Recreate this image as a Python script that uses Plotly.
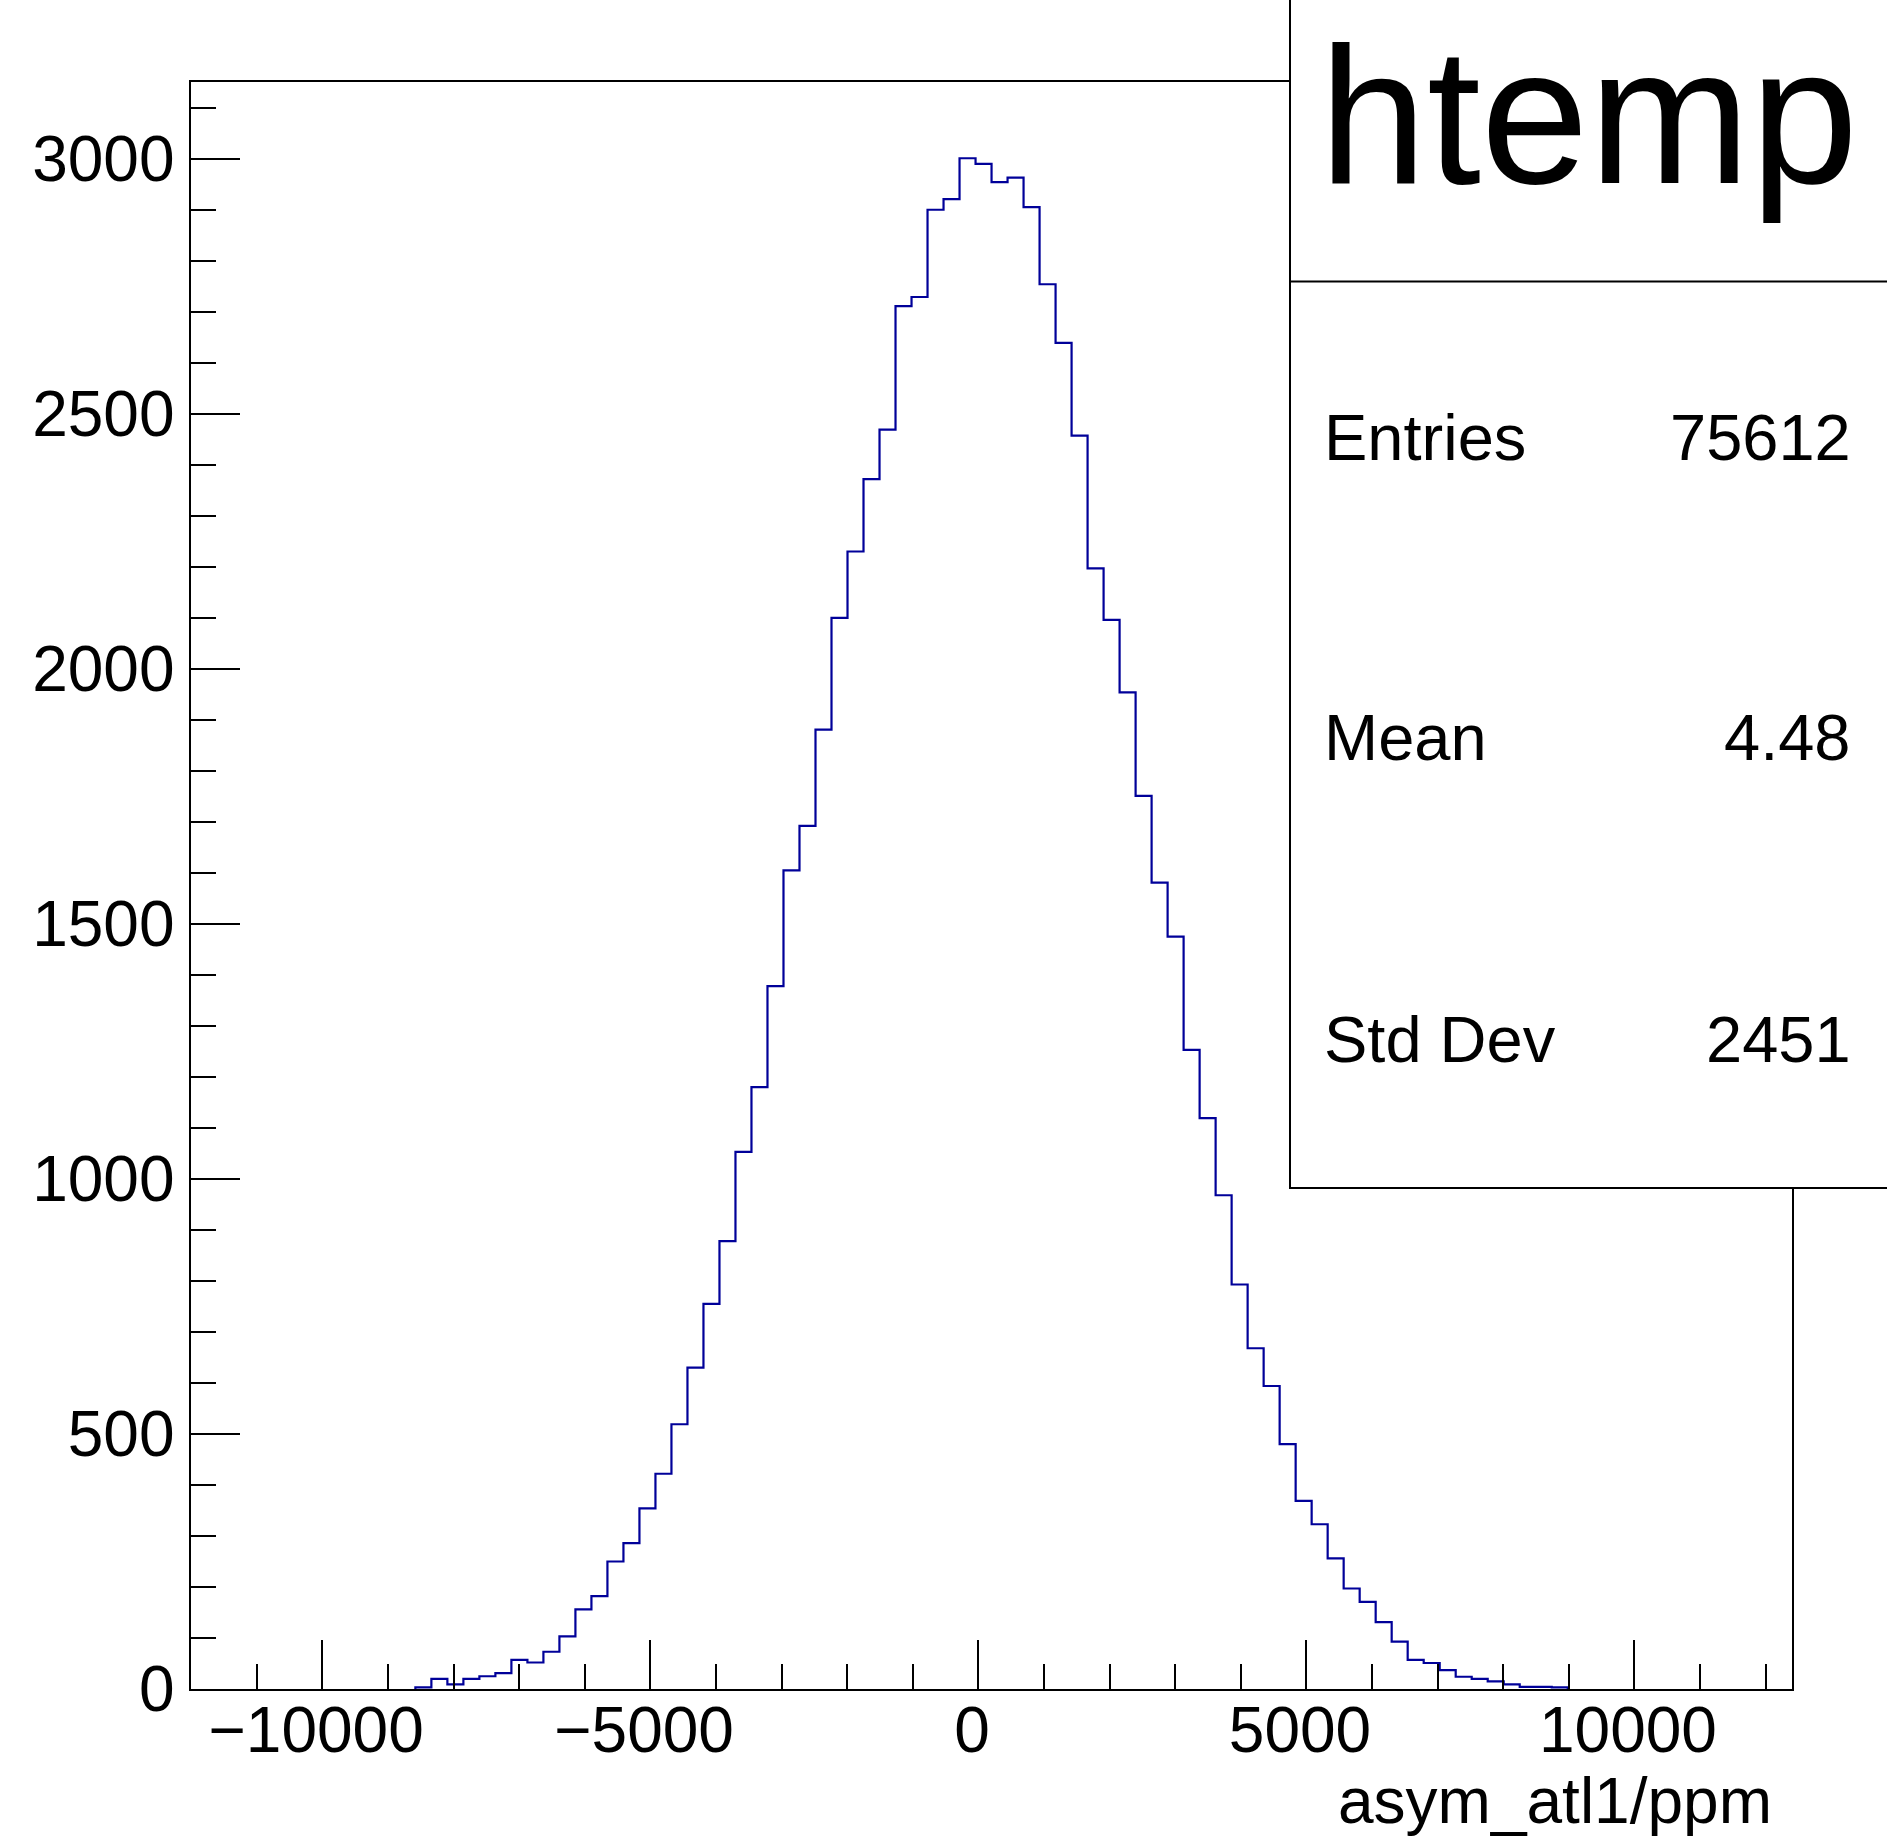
import plotly.graph_objects as go

# ---- data ----
x_low = -12000.0
bin_width = 244.0
n_bins = 100
bin_counts = [
    0, 0, 0, 0, 0, 0, 0, 0, 0, 0,
    0, 0, 0, 0, 3, 20, 9, 20, 25, 31,
    57, 52, 73, 103, 156, 182, 250, 286, 354, 422,
    519, 630, 755, 878, 1053, 1180, 1378, 1605, 1692, 1881,
    2100, 2230, 2372, 2469, 2711, 2729, 2900, 2921, 3001, 2990,
    2954, 2963, 2905, 2754, 2639, 2457, 2197, 2096, 1954, 1751,
    1581, 1475, 1253, 1119, 968, 793, 668, 594, 480, 369,
    323, 256, 197, 171, 131, 93, 57, 51, 37, 24,
    20, 15, 9, 4, 4, 3, 0, 0, 0, 0,
    0, 0, 0, 0, 0, 0, 0, 0, 0, 0,
]
x_tick_values = [-10000, -5000, 0, 5000, 10000]
x_tick_labels = ["\u221210000", "\u22125000", "0", "5000", "10000"]
hist_name = "htemp"
x_title = "asym_atl1/ppm"
stat_names = ["Entries", "Mean", "Std Dev"]
stat_values = ["75612", "4.48", "2451"]
x_range = [-12000, 12400]
y_max = 3151.05

# ---- geometry ----
W, H = 1887, 1837
FL, FR, FT, FB = 191.3, 1791.8, 81.7, 1689.0   # frame in px


def px(x):
    return x / W


def py(y):
    return 1 - y / H


edges = [x_low + bin_width * i for i in range(n_bins + 1)]
nz = [i for i, c in enumerate(bin_counts) if c > 0]
first, last = nz[0], nz[-1]
xs = [edges[first]] + edges[first:last + 2] + [edges[last + 1]]
ys = [0] + bin_counts[first:last + 1] + [bin_counts[last], 0]

fig = go.Figure()
fig.add_trace(go.Scatter(
    x=xs, y=ys, mode="lines", line_shape="hv",
    line=dict(color="#000099", width=2.2), showlegend=False, hoverinfo="skip",
))

FONT = "Liberation Sans, Arial, Helvetica, sans-serif"
TS = 64

fig.update_layout(
    width=W, height=H, autosize=False,
    margin=dict(l=0, r=0, t=0, b=0, pad=0, autoexpand=False),
    paper_bgcolor="white", plot_bgcolor="white",
    font=dict(family=FONT, color="black", size=TS),
    showlegend=False,
    xaxis=dict(
        domain=[px(FL), px(FR)], range=x_range, autorange=False,
        showgrid=False, zeroline=False,
        showline=True, linecolor="black", linewidth=2, mirror=True,
        ticks="inside", ticklen=49, tickwidth=2, tickcolor="black",
        tickmode="array", tickvals=x_tick_values,
        ticktext=[t + "\u2009" for t in x_tick_labels],
        tickfont=dict(size=TS, family=FONT, color="black"),
        ticklabelstandoff=-16,
        minor=dict(ticks="inside", ticklen=25, tickwidth=2, tickcolor="black",
                   dtick=1000, tick0=0, showgrid=False),
    ),
    yaxis=dict(
        domain=[py(FB), py(FT)], range=[0, y_max], autorange=False,
        showgrid=False, zeroline=False,
        showline=True, linecolor="black", linewidth=2, mirror=True,
        ticks="inside", ticklen=49, tickwidth=2, tickcolor="black",
        tick0=0, dtick=500, tickformat="d",
        tickfont=dict(size=TS, family=FONT, color="black"),
        ticklabelstandoff=2,
        minor=dict(ticks="inside", ticklen=25, tickwidth=2, tickcolor="black",
                   dtick=100, tick0=0, showgrid=False),
    ),
)

# stats box
BX0, BY1, SEP = 1290.0, 1188.0, 281.6
fig.add_shape(type="rect", xref="paper", yref="paper",
              x0=px(BX0), x1=px(W + 5), y0=py(BY1), y1=py(-5),
              line=dict(color="black", width=2), fillcolor="white", layer="above")
fig.add_shape(type="line", xref="paper", yref="paper",
              x0=px(BX0), x1=px(W + 5), y0=py(SEP), y1=py(SEP),
              line=dict(color="black", width=2), layer="above")

fig.add_annotation(text=hist_name, xref="paper", yref="paper",
                   x=px(1588), y=py(116), xanchor="center", yanchor="middle",
                   showarrow=False, font=dict(size=194, family=FONT, color="black"))

row_y = [437, 738, 1039]
for name, val, yy in zip(stat_names, stat_values, row_y):
    fig.add_annotation(text=name, xref="paper", yref="paper",
                       x=px(1322), y=py(yy), xanchor="left", yanchor="middle",
                       showarrow=False, font=dict(size=65, family=FONT, color="black"))
    fig.add_annotation(text=val, xref="paper", yref="paper",
                       x=px(1853), y=py(yy), xanchor="right", yanchor="middle",
                       showarrow=False, font=dict(size=65, family=FONT, color="black"))

fig.add_annotation(text=x_title, xref="paper", yref="paper",
                   x=px(1774), y=py(1801), xanchor="right", yanchor="middle",
                   showarrow=False, font=dict(size=TS, family=FONT, color="black"))

css = ("var s=document.documentElement.style;s.margin='0';s.padding='0';s.overflow='hidden';"
       "var b=document.body.style;b.margin='0';b.padding='0';b.overflow='hidden';")
fig.write_html("out.html", config={"displayModeBar": False}, post_script=css)
